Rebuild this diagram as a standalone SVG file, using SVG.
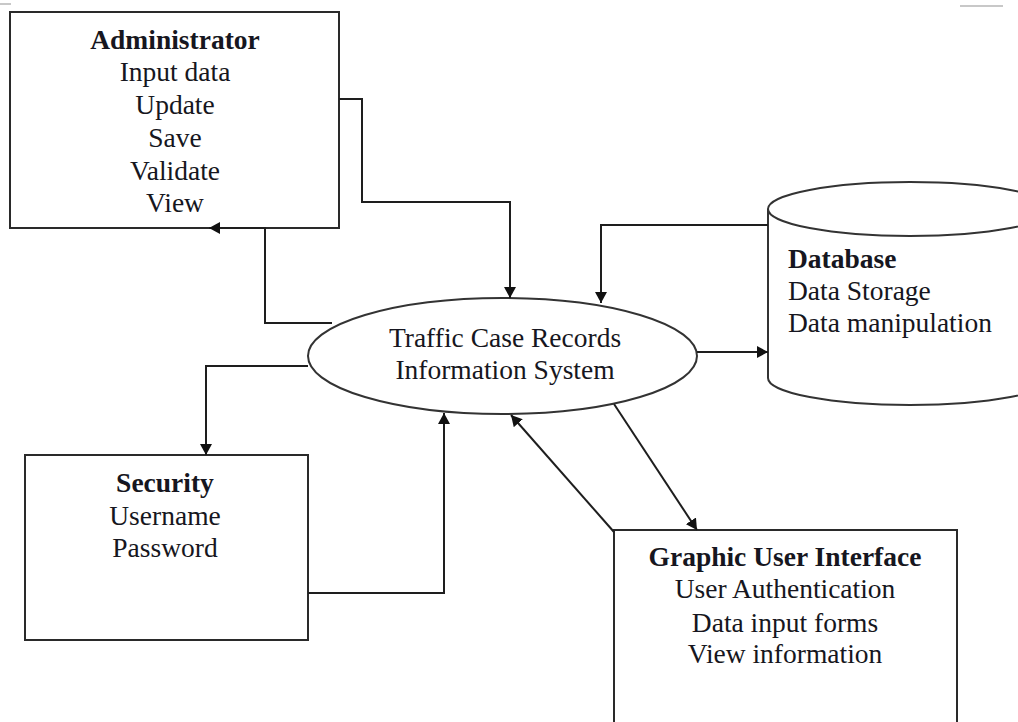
<svg xmlns="http://www.w3.org/2000/svg" width="1018" height="722" viewBox="0 0 1018 722">
<style>
.box{fill:#fff;stroke:#2a2a2a;stroke-width:2}
.shape{fill:#fff;stroke:#333;stroke-width:2}
.t{font-family:"Liberation Serif","Times New Roman",serif;font-size:27.5px;fill:#161620}
.b{font-weight:bold}
.c{text-anchor:middle}
.con{fill:none;stroke:#1e1e1e;stroke-width:2}
.art{stroke:#c8c8c8;stroke-width:2}
</style>
<defs>
<marker id="ah" markerUnits="userSpaceOnUse" markerWidth="12" markerHeight="12" refX="11" refY="6" orient="auto">
<path d="M0,0 L11,6 L0,12 z" fill="#111"/>
</marker>
</defs>
<rect width="1018" height="722" fill="#fff"/>
<line class="art" x1="0" y1="4" x2="11" y2="4"/>
<line class="art" x1="960" y1="6" x2="1003" y2="6"/>

<g id="administrator">
<rect class="box" x="10" y="12" width="329" height="216"/>
<text class="t b c" x="175" y="49">Administrator</text>
<text class="t c" x="175" y="81">Input data</text>
<text class="t c" x="175" y="114">Update</text>
<text class="t c" x="175" y="147">Save</text>
<text class="t c" x="175" y="180">Validate</text>
<text class="t c" x="175" y="212">View</text>
</g>

<g id="system">
<ellipse class="shape" cx="502.5" cy="356" rx="194.5" ry="58"/>
<text class="t c" x="505" y="347">Traffic Case Records</text>
<text class="t c" x="505" y="379">Information System</text>
</g>

<g id="database">
<path class="shape" d="M768,209 V378 A142,27 0 0 0 1052,378 V209"/>
<ellipse class="shape" cx="910" cy="209" rx="142" ry="27"/>
<text class="t b" x="788" y="268">Database</text>
<text class="t" x="788" y="300">Data Storage</text>
<text class="t" x="788" y="332">Data manipulation</text>
</g>

<g id="security">
<rect class="box" x="25" y="455" width="283" height="185"/>
<text class="t b c" x="165" y="492">Security</text>
<text class="t c" x="165" y="525">Username</text>
<text class="t c" x="165" y="557">Password</text>
</g>

<g id="gui">
<rect class="box" x="614" y="530" width="343" height="210"/>
<text class="t b c" x="785" y="566">Graphic User Interface</text>
<text class="t c" x="785" y="598">User Authentication</text>
<text class="t c" x="785" y="632">Data input forms</text>
<text class="t c" x="785" y="663">View information</text>
</g>

<g id="connectors">
<path class="con" d="M339,99 H362 V202 H510 V298" marker-end="url(#ah)"/>
<path class="con" d="M332,323 H265 V228 H209" marker-end="url(#ah)"/>
<path class="con" d="M768,225 H601 V303" marker-end="url(#ah)"/>
<path class="con" d="M697,352 H768" marker-end="url(#ah)"/>
<path class="con" d="M308,366 H206 V455" marker-end="url(#ah)"/>
<path class="con" d="M308,593 H444 V413" marker-end="url(#ah)"/>
<path class="con" d="M614,532 L511,415" marker-end="url(#ah)"/>
<path class="con" d="M614,404 L697,530" marker-end="url(#ah)"/>
</g>
</svg>
